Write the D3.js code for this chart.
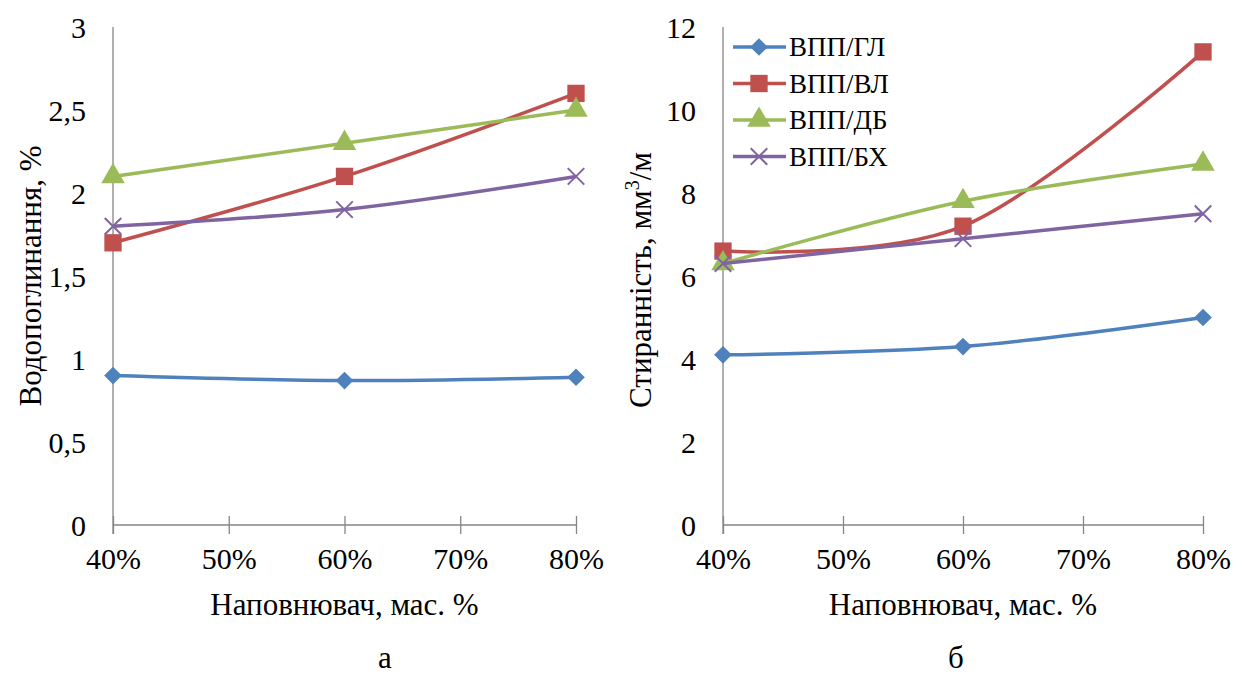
<!DOCTYPE html>
<html>
<head>
<meta charset="utf-8">
<style>
    body { margin: 0; background: #fff; }
    svg { font-family: 'Liberation Serif', 'Times New Roman', serif; }
    .tick text { font-family: 'Liberation Serif', 'Times New Roman', serif; font-size: 30px; fill: #000; }
    .axis-title { font-size: 31px; fill: #000; }
    .legend text { font-size: 27px; fill: #000; }
</style>
</head>
<body>
<svg width="1246" height="675"></svg>
<script src="https://cdn.jsdelivr.net/npm/d3@7"></script>
<script>
    let fillers = [40, 60, 80]
    let xTicks = [40, 50, 60, 70, 80]
    let seriesNames = ["ВПП/ГЛ", "ВПП/ВЛ", "ВПП/ДБ", "ВПП/БХ"]
    let colors = ["#4F81BD", "#C0504D", "#9BBB59", "#8064A2"]
    let markers = ["diamond", "square", "triangle", "cross"]

    // water absorption, %
    let waterGL = [0.90, 0.87, 0.89]
    let waterVL = [1.7, 2.1, 2.6]
    let waterDB = [2.1, 2.3, 2.5]
    let waterBH = [1.8, 1.9, 2.1]
    let waterTicks = [0, 0.5, 1, 1.5, 2, 2.5, 3]

    // wear, mm3/m
    let wearGL = [4.1, 4.3, 5.0]
    let wearVL = [6.6, 7.2, 11.4]
    let wearDB = [6.3, 7.8, 8.7]
    let wearBH = [6.3, 6.9, 7.5]
    let wearTicks = [0, 2, 4, 6, 8, 10, 12]

    let svg = d3.select("svg")
    let fmt = d => String(d).replace(".", ",")

    function markerPath(type) {
        if (type == "diamond") return d3.symbol(d3.symbolDiamond2, 200)()
        if (type == "square") return d3.symbol(d3.symbolSquare, 300)()
        if (type == "triangle") return d3.symbol(d3.symbolTriangle, 240)()
        return d3.symbol(d3.symbolX, 180)()
    }

    function drawMarker(g, type, color, x, y) {
        let p = g.append("path")
            .attr("d", markerPath(type))
            .attr("transform", `translate(${x},${y})`)
        if (type == "cross") {
            p.attr("fill", "none").attr("stroke", color).attr("stroke-width", 2)
        } else {
            p.attr("fill", color)
        }
    }

    function panel(opts) {
        let x = d3.scaleLinear().domain([40, 80]).range([opts.left, opts.right])
        let y = d3.scaleLinear().domain([0, opts.ymax]).range([525, 27])

        let g = svg.append("g")

        // y axis
        g.append("line")
            .attr("x1", opts.left).attr("x2", opts.left)
            .attr("y1", y(opts.ymax)).attr("y2", y(0) + 9)
            .attr("stroke", "#868686").attr("stroke-width", 1.3)

        let yAxis = g.append("g")
            .attr("transform", `translate(${opts.left},0)`)
            .call(d3.axisLeft(y).tickValues(opts.ticks).tickSize(0).tickPadding(27).tickFormat(fmt))
        yAxis.select(".domain").remove()
        yAxis.selectAll("text").attr("dy", "0.35em")

        // x axis
        let xAxis = g.append("g")
            .attr("transform", `translate(0,${y(0)})`)
            .call(d3.axisBottom(x).tickValues(xTicks).tickSize(9).tickPadding(14).tickFormat(d => d + "%"))
        xAxis.select(".domain").attr("stroke", "#868686").attr("stroke-width", 1.3).attr("d", `M${opts.left},0H${opts.right}`)
        xAxis.selectAll(".tick line").attr("stroke", "#868686").attr("stroke-width", 1.3).attr("y1", -9)

        let line = d3.line()
            .x((d, i) => x(fillers[i]))
            .y(d => y(d))
            .curve(d3.curveCardinal)

        opts.data.forEach((vals, k) => {
            g.append("path")
                .attr("d", line(vals))
                .attr("fill", "none")
                .attr("stroke", colors[k])
                .attr("stroke-width", 3.5)
            vals.forEach((v, i) => drawMarker(g, markers[k], colors[k], x(fillers[i]), y(v)))
        })

        // titles
        g.append("text")
            .attr("class", "axis-title")
            .attr("x", (opts.left + opts.right) / 2)
            .attr("y", 615)
            .attr("text-anchor", "middle")
            .text("Наповнювач, мас. %")

        let yt = g.append("text")
            .attr("class", "axis-title")
            .attr("transform", `translate(${opts.left - 72},${opts.ytitleY}) rotate(-90)`)
            .attr("text-anchor", "middle")
        opts.ytitle(yt)

        g.append("text")
            .attr("class", "axis-title")
            .attr("x", opts.letterX)
            .attr("y", 668)
            .attr("text-anchor", "middle")
            .text(opts.letter)

        return { x, y, g }
    }

    panel({
        left: 113, right: 576, ymax: 3, ticks: waterTicks,
        data: [waterGL, waterVL, waterDB, waterBH],
        ytitleY: 276, letter: "а", letterX: 385,
        ytitle: t => t.text("Водопоглинання,  %")
    })

    panel({
        left: 723, right: 1203, ymax: 12, ticks: wearTicks,
        data: [wearGL, wearVL, wearDB, wearBH],
        ytitleY: 280, letter: "б", letterX: 956,
        ytitle: t => {
            t.append("tspan").text("Стиранність,  мм")
            t.append("tspan").attr("dy", -12).style("font-size", "20px").text("3")
            t.append("tspan").attr("dy", 12).text("/м")
        }
    })

    // legend
    let legend = svg.append("g").attr("class", "legend")
    seriesNames.forEach((name, k) => {
        let ly = 47 + k * 36.5
        legend.append("line")
            .attr("x1", 733).attr("x2", 786)
            .attr("y1", ly).attr("y2", ly)
            .attr("stroke", colors[k]).attr("stroke-width", 3.5)
        drawMarker(legend, markers[k], colors[k], 759, ly)
        legend.append("text")
            .attr("x", 789).attr("y", ly)
            .attr("dy", "0.35em")
            .text(name)
    })
</script>
</body>
</html>
